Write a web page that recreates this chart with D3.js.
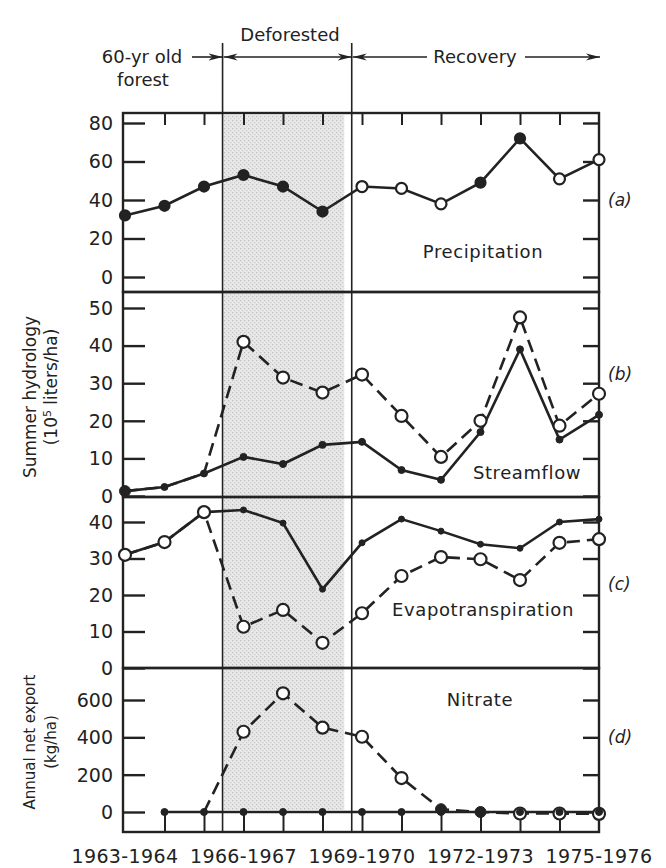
<!DOCTYPE html>
<html>
<head>
<meta charset="utf-8">
<script src="https://cdn.jsdelivr.net/npm/d3@7"></script>
<style>
  body { margin: 0; background: #fff; }
  svg { display: block; font-family: "DejaVu Sans", sans-serif; }
</style>
</head>
<body>
<div id="chart"></div>
<script>
// years on the x axis, one point per summer
const years = ["1963-1964","1964-1965","1965-1966","1966-1967","1967-1968","1968-1969",
  "1969-1970","1970-1971","1971-1972","1972-1973","1973-1974","1974-1975","1975-1976"];
const yearLabels = ["1963-1964","1966-1967","1969-1970","1972-1973","1975-1976"];

// (a) precipitation, same for both watersheds
const precip = [32, 37, 47, 53, 47, 34, 47, 46, 38, 49, 72, 51, 61];
const precipMarker = ["filled","filled","filled","filled","filled","filled",
  "open","open","open","filled","filled","open","open"];

// (b) streamflow
const flowRef = [1.3, 2.4, 6, 10.4, 8.5, 13.6, 14.4, 6.9, 4.3, 17, 39, 15, 21.6];
const flowCut = [1.3, 2.4, 6, 41, 31.5, 27.5, 32.3, 21.3, 10.4, 20, 47.5, 18.7, 27.2];

// (c) evapotranspiration
const etRef = [31, 34.5, 42.7, 43.3, 39.7, 21.6, 34.3, 40.8, 37.5, 33.9, 32.8, 40, 40.8];
const etCut = [31, 34.5, 42.7, 11.3, 15.9, 6.9, 15, 25.2, 30.4, 29.8, 24.1, 34.3, 35.3];

// (d) nitrate export
const no3Ref = [null, 0, 0, 0, 0, 0, 0, 0, 0, 0, 0, 0, 0];
const no3Cut = [null, null, 0, 430, 636, 452, 403, 182, 15, 0, -8, -8, -10];

// phase boundaries (in year index units)
const phaseBounds = [2.47, 5.74];
const shadeSpan = [2.5, 5.55];

const W = 666, H = 868;
const svg = d3.select("#chart").append("svg").attr("width", W).attr("height", H);

const defs = svg.append("defs");
const pat = defs.append("pattern").attr("id", "stip").attr("width", 4).attr("height", 4)
  .attr("patternUnits", "userSpaceOnUse");
pat.append("rect").attr("width", 4).attr("height", 4).attr("fill", "#e8e8e8");
pat.append("rect").attr("x", 0).attr("y", 0).attr("width", 1.2).attr("height", 1.2).attr("fill", "#bdbdbd");
pat.append("rect").attr("x", 2).attr("y", 2).attr("width", 1.2).attr("height", 1.2).attr("fill", "#cacaca");

defs.append("marker").attr("id", "arr").attr("viewBox", "0 -4 14 8")
  .attr("refX", 14).attr("refY", 0).attr("markerWidth", 14).attr("markerHeight", 8)
  .attr("markerUnits", "userSpaceOnUse").attr("orient", "auto-start-reverse")
  .append("path").attr("d", "M0,-3.5L14,0L0,3.5L4,0Z").attr("fill", "#222");

const x = d3.scaleLinear().domain([0, 12]).range([125, 599]);
const left = 123, right = 599;
const ink = "#222";

const panels = [
  {top: 113, bottom: 292, y: d3.scaleLinear().domain([0, 80]).range([277, 123]), ticks: [0,20,40,60,80], tag: "(a)", tagY: 40,
   name: "Precipitation", nameX: 483, nameY: 252},
  {top: 292, bottom: 497, y: d3.scaleLinear().domain([0, 50]).range([496, 308]), ticks: [0,10,20,30,40,50], tag: "(b)", tagY: 32.5,
   name: "Streamflow", nameX: 527, nameY: 473},
  {top: 497, bottom: 668, y: d3.scaleLinear().domain([0, 40]).range([668, 522]), ticks: [0,10,20,30,40], tag: "(c)", tagY: 23,
   name: "Evapotranspiration", nameX: 483, nameY: 610},
  {top: 668, bottom: 832, y: d3.scaleLinear().domain([0, 600]).range([812, 700]), ticks: [0,200,400,600], tag: "(d)", tagY: 400,
   name: "Nitrate", nameX: 480, nameY: 700}
];

// shaded deforestation period
svg.append("rect")
  .attr("x", x(shadeSpan[0])).attr("width", x(shadeSpan[1]) - x(shadeSpan[0]))
  .attr("y", 115).attr("height", 810 - 115)
  .attr("fill", "url(#stip)");

// phase lines
phaseBounds.forEach(b => {
  svg.append("line").attr("x1", x(b)).attr("x2", x(b)).attr("y1", 43).attr("y2", 832)
    .attr("stroke", ink).attr("stroke-width", 1.6);
});

// frames, ticks, labels
panels.forEach(p => {
  svg.append("rect").attr("x", left).attr("y", p.top).attr("width", right - left).attr("height", p.bottom - p.top)
    .attr("fill", "none").attr("stroke", ink).attr("stroke-width", 2.4);

  const gl = svg.append("g").attr("transform", `translate(${left},0)`)
    .call(d3.axisRight(p.y).tickValues(p.ticks).tickSize(22).tickFormat(""));
  const gr = svg.append("g").attr("transform", `translate(${right},0)`)
    .call(d3.axisLeft(p.y).tickValues(p.ticks).tickSize(16).tickFormat(""));
  [gl, gr].forEach(g => {
    g.select(".domain").remove();
    g.selectAll("line").attr("stroke", ink).attr("stroke-width", 2.4);
  });

  svg.append("g").selectAll("text").data(p.ticks).join("text")
    .attr("x", 113).attr("y", d => p.y(d)).attr("dy", "0.36em")
    .attr("text-anchor", "end").attr("font-size", 19).attr("fill", ink)
    .text(d => d);

  svg.append("text").attr("x", 608).attr("y", p.y(p.tagY)).attr("dy", "0.36em")
    .attr("font-size", 17).attr("font-style", "italic").attr("fill", ink).text(p.tag);

  svg.append("text").attr("x", p.nameX).attr("y", p.nameY).attr("dy", "0.36em")
    .attr("text-anchor", "middle").attr("font-size", 18).attr("letter-spacing", 0.6)
    .attr("fill", ink).text(p.name);
});

// top ticks of panel a, bottom ticks of panel d
const inner = d3.range(1, 12);
svg.append("g").attr("transform", "translate(0,113)")
  .call(d3.axisBottom(x).tickValues(inner).tickSize(12).tickFormat(""))
  .call(g => g.select(".domain").remove())
  .selectAll("line").attr("stroke", ink).attr("stroke-width", 2);
svg.append("g").attr("transform", "translate(0,832)")
  .call(d3.axisTop(x).tickValues(inner).tickSize(20).tickFormat(""))
  .call(g => g.select(".domain").remove())
  .selectAll("line").attr("stroke", ink).attr("stroke-width", 2);

// x labels
svg.append("g").selectAll("text").data(yearLabels).join("text")
  .attr("x", d => x(years.indexOf(d))).attr("y", 856).attr("dy", "0.36em")
  .attr("text-anchor", "middle").attr("font-size", 19).attr("letter-spacing", 0.4).attr("fill", ink)
  .text(d => d);

function drawLine(p, vals, dashed) {
  const line = d3.line().defined(d => d != null).x((d, i) => x(i)).y(d => p.y(d));
  svg.append("path").datum(vals).attr("d", line).attr("fill", "none")
    .attr("stroke", ink).attr("stroke-width", 2.6)
    .attr("stroke-dasharray", dashed ? "13,7" : null);
}
function drawDots(p, vals, kind, r, skip) {
  const pts = vals.map((v, i) => ({v, i})).filter(d => d.v != null && !(skip || []).includes(d.i));
  svg.append("g").selectAll("circle").data(pts).join("circle")
    .attr("cx", d => x(d.i)).attr("cy", d => p.y(d.v)).attr("r", r)
    .attr("fill", kind === "open" ? "#fff" : ink)
    .attr("stroke", ink).attr("stroke-width", kind === "open" ? 2.2 : 1);
}

// (a)
const pa = panels[0];
drawLine(pa, precip, false);
svg.append("g").selectAll("circle").data(precip).join("circle")
  .attr("cx", (d, i) => x(i)).attr("cy", d => pa.y(d))
  .attr("r", (d, i) => precipMarker[i] === "open" ? 5.5 : 5)
  .attr("fill", (d, i) => precipMarker[i] === "open" ? "#fff" : ink)
  .attr("stroke", ink).attr("stroke-width", 2.2);

// (b)
const pb = panels[1];
drawLine(pb, flowCut, true);
drawLine(pb, flowRef, false);
drawDots(pb, flowCut, "open", 6, [0, 1, 2]);
drawDots(pb, flowRef, "filled", 3.5);
drawDots(pb, [flowRef[0]], "filled", 5.5);

// (c)
const pc = panels[2];
drawLine(pc, etCut, true);
drawLine(pc, etRef, false);
drawDots(pc, etRef, "filled", 3, [0, 1, 2]);
drawDots(pc, etCut, "open", 6);

// (d)
const pd = panels[3];
drawLine(pd, no3Cut, true);
drawLine(pd, no3Ref, false);
drawDots(pd, no3Cut, "open", 6, [2, 8, 9]);
drawDots(pd, no3Ref, "filled", 3.5);
drawDots(pd, no3Cut, "filled", 5.5, [2, 3, 4, 5, 6, 7, 10, 11, 12]);

// y axis titles
function vtext(tx, ty, str, size) {
  return svg.append("text").attr("transform", `translate(${tx},${ty}) rotate(-90)`)
    .attr("text-anchor", "middle").attr("dy", "0.36em").attr("font-size", size).attr("fill", ink).text(str);
}
vtext(30, 397, "Summer hydrology", 17);
const unit = vtext(51, 387, "(10", 17);
unit.append("tspan").attr("baseline-shift", "super").attr("font-size", 11).text("5");
unit.append("tspan").text(" liters/ha)");
vtext(30, 742, "Annual net export", 15);
vtext(51, 742, "(kg/ha)", 15);

// phase header
const ay = 57;
svg.append("text").attr("x", 290).attr("y", 35).attr("dy", "0.36em").attr("text-anchor", "middle")
  .attr("font-size", 18).attr("fill", ink).text("Deforested");
svg.append("text").attr("x", 142).attr("y", ay).attr("dy", "0.36em").attr("text-anchor", "middle")
  .attr("font-size", 18).attr("fill", ink).text("60-yr old");
svg.append("text").attr("x", 143).attr("y", 80).attr("dy", "0.36em").attr("text-anchor", "middle")
  .attr("font-size", 18).attr("fill", ink).text("forest");
svg.append("text").attr("x", 475).attr("y", ay).attr("dy", "0.36em").attr("text-anchor", "middle")
  .attr("font-size", 18).attr("fill", ink).text("Recovery");

function arrow(x1, x2, startHead, endHead) {
  svg.append("line").attr("x1", x1).attr("x2", x2).attr("y1", ay).attr("y2", ay)
    .attr("stroke", ink).attr("stroke-width", 1.6)
    .attr("marker-start", startHead ? "url(#arr)" : null)
    .attr("marker-end", endHead ? "url(#arr)" : null);
}
const b0 = x(phaseBounds[0]), b1 = x(phaseBounds[1]);
arrow(192, b0, false, true);
arrow(b0 + 1, b1, true, true);
arrow(b1 + 1, 427, true, false);
arrow(525, 600, false, true);
</script>
</body>
</html>
